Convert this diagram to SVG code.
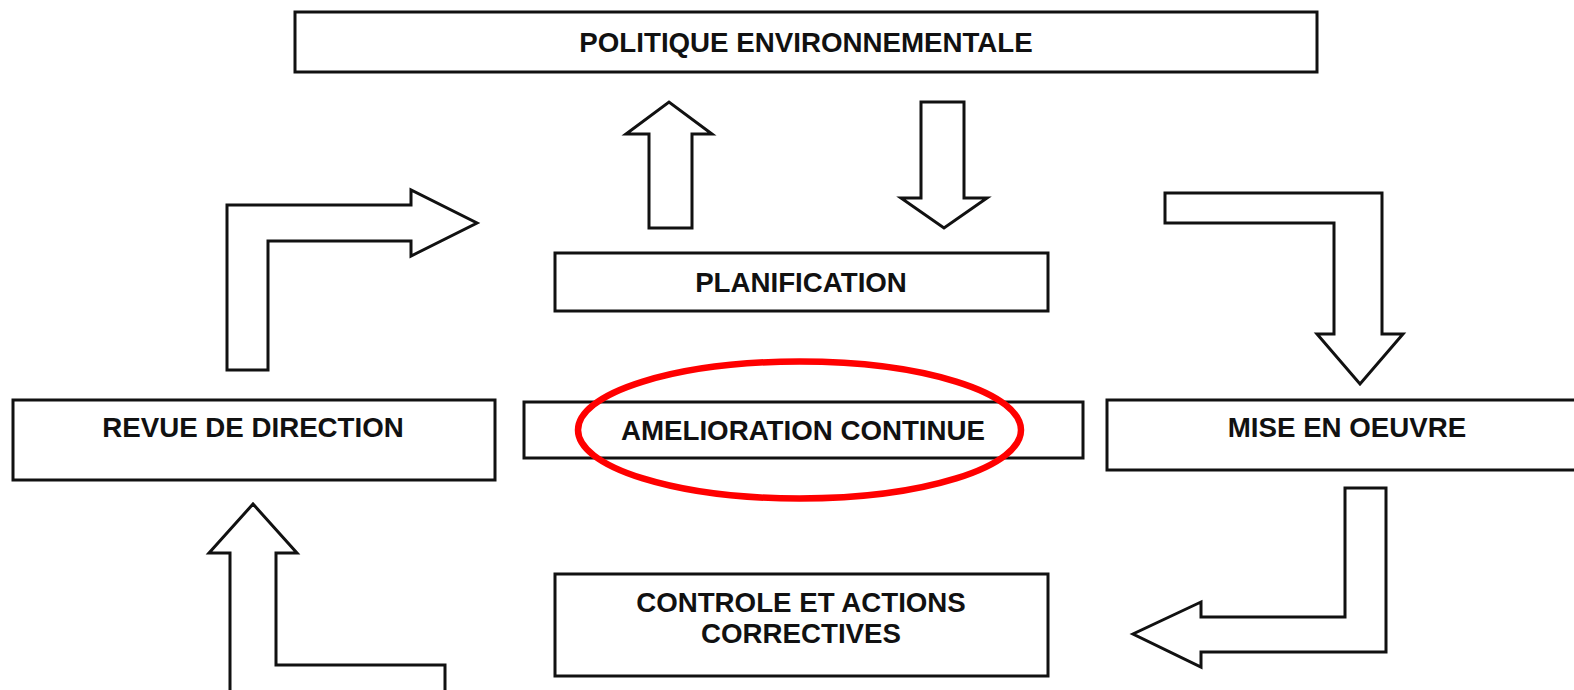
<svg xmlns="http://www.w3.org/2000/svg" width="1574" height="690" viewBox="0 0 1574 690">
<style>
.box{fill:#fff;stroke:#111;stroke-width:3}
.arr{fill:#fff;stroke:#111;stroke-width:3;stroke-linejoin:miter}
.t{font-family:"Liberation Sans",Arial,sans-serif;font-weight:bold;font-size:27.7px;fill:#111;text-anchor:middle}
</style>
<rect width="1574" height="690" fill="#fff"/>
<g id="connectors">
<path class="arr" d="M227,370 L227,205 L411,205 L411,190 L477,223 L411,256 L411,241 L268,241 L268,370 Z"/>
<path class="arr" d="M649,228 L649,134 L626,134 L669,102 L712,134 L692,134 L692,228 Z"/>
<path class="arr" d="M921,102 L964,102 L964,198 L987,198 L944,228 L901,198 L921,198 Z"/>
<path class="arr" d="M1165,193 L1382,193 L1382,334 L1403,334 L1360,384 L1317,334 L1334,334 L1334,223 L1165,223 Z"/>
<path class="arr" d="M1345,488 L1386,488 L1386,652 L1201,652 L1201,667 L1133,634 L1201,602 L1201,617 L1345,617 Z"/>
<path class="arr" d="M230,700 L230,553 L209,553 L253,504 L297,553 L276,553 L276,665 L445,665 L445,700"/>
</g>
<g id="politique">
<rect class="box" x="295" y="12" width="1022" height="60"/>
<text class="t" x="806" y="52">POLITIQUE ENVIRONNEMENTALE</text>
</g>
<g id="planification">
<rect class="box" x="555" y="253" width="493" height="58"/>
<text class="t" x="801" y="292">PLANIFICATION</text>
</g>
<g id="revue">
<rect class="box" x="13" y="400" width="482" height="80"/>
<text class="t" x="253" y="437">REVUE DE DIRECTION</text>
</g>
<g id="amelioration">
<rect class="box" x="524" y="402" width="559" height="56"/>
<text class="t" x="803" y="440">AMELIORATION CONTINUE</text>
<ellipse cx="799.5" cy="430" rx="221.5" ry="68.5" fill="none" stroke="#f00" stroke-width="6.5"/>
</g>
<g id="mise">
<rect class="box" x="1107" y="400" width="483" height="70"/>
<text class="t" x="1347" y="437">MISE EN OEUVRE</text>
</g>
<g id="controle">
<rect class="box" x="555" y="574" width="493" height="102"/>
<text class="t" x="801" y="612">CONTROLE ET ACTIONS</text>
<text class="t" x="801" y="643">CORRECTIVES</text>
</g>
</svg>
